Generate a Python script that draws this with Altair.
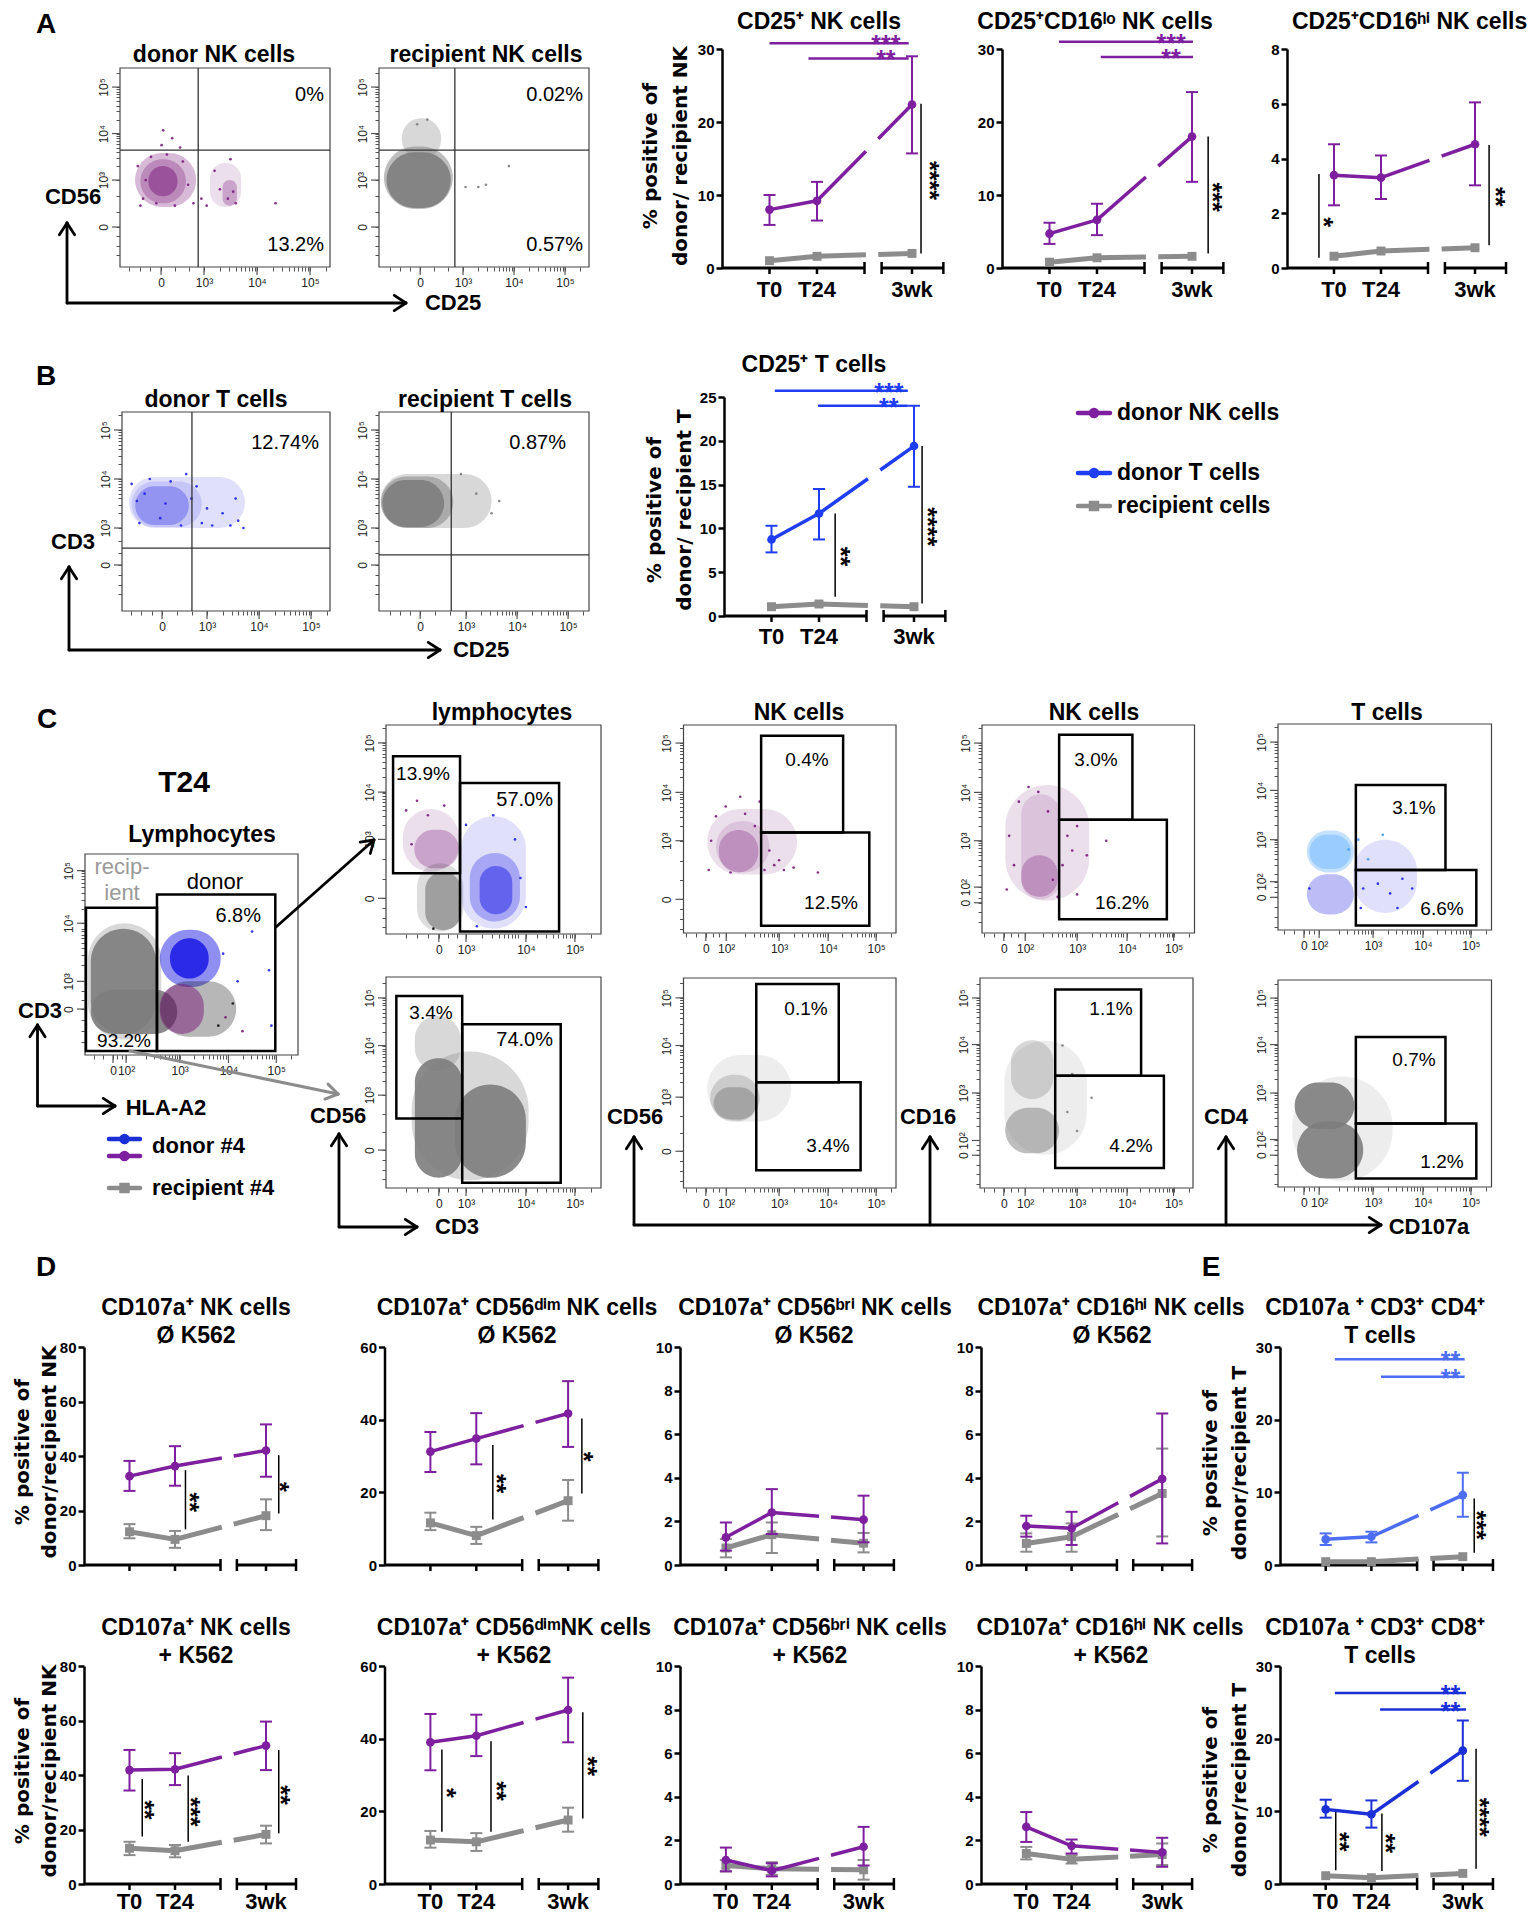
import math
import altair as alt
import pandas as pd

# =========================== DATA ===========================
TIMES = ["T0", "T24", "3wk"]
TPOS = [1, 2, 4]            # position of the three time points (3wk sits after the axis break)

# ---- A : % CD25+ of donor / recipient NK subsets
A1_DON = [8.0, 9.2, 22.4];    A1_DON_LO = [5.9, 6.5, 15.7];   A1_DON_HI = [10.0, 11.8, 29.0]
A1_REC = [1.0, 1.6, 2.0]
A2_DON = [4.7, 6.6, 18.0];    A2_DON_LO = [3.3, 4.5, 11.8];   A2_DON_HI = [6.2, 8.8, 24.1]
A2_REC = [0.8, 1.4, 1.6]
A3_DON = [3.39, 3.30, 4.52];  A3_DON_LO = [2.29, 2.52, 3.02]; A3_DON_HI = [4.52, 4.11, 6.05]
A3_REC = [0.43, 0.62, 0.74]
# ---- B : % CD25+ T cells
B_DON = [8.74, 11.7, 19.4];   B_DON_LO = [7.26, 8.74, 14.75]; B_DON_HI = [10.3, 14.5, 24.0]
B_REC = [1.06, 1.37, 1.06]
# ---- D : % CD107a+ NK subsets (without / with K562)
D1_DON = [32.6, 36.3, 42.0];  D1_DON_LO = [27.2, 29.1, 32.4]; D1_DON_HI = [38.2, 43.6, 51.6]
D1_REC = [12.2, 9.4, 18.1];   D1_REC_LO = [9.8, 6.3, 12.8];   D1_REC_HI = [15.0, 12.5, 24.1]
D2_DON = [31.2, 34.8, 41.7];  D2_DON_LO = [25.6, 27.7, 32.5]; D2_DON_HI = [36.6, 41.8, 50.6]
D2_REC = [11.6, 8.1, 17.7];   D2_REC_LO = [9.6, 5.8, 12.2];   D2_REC_HI = [14.4, 10.5, 23.4]
D3_DON = [1.27, 2.41, 2.08];  D3_DON_LO = [0.66, 1.42, 1.04]; D3_DON_HI = [1.95, 3.48, 3.18]
D3_REC = [0.78, 1.39, 1.00];  D3_REC_LO = [0.35, 0.55, 0.58]; D3_REC_HI = [1.19, 1.95, 1.47]
D4_DON = [1.79, 1.69, 3.95];  D4_DON_LO = [1.30, 0.92, 0.99]; D4_DON_HI = [2.26, 2.44, 6.95]
D4_REC = [0.99, 1.30, 3.28];  D4_REC_LO = [0.61, 0.61, 1.31]; D4_REC_HI = [1.45, 1.91, 5.34]
D5_DON = [41.8, 42.1, 50.8];  D5_DON_LO = [34.3, 36.3, 41.8]; D5_DON_HI = [49.2, 48.0, 59.6]
D5_REC = [13.1, 12.2, 18.2];  D5_REC_LO = [10.6, 9.8, 14.9];  D5_REC_HI = [15.5, 14.3, 21.4]
D6_DON = [39.0, 40.8, 47.9];  D6_DON_LO = [31.3, 35.2, 39.0]; D6_DON_HI = [46.8, 46.6, 56.8]
D6_REC = [12.1, 11.6, 17.6];  D6_REC_LO = [10.0, 9.1, 14.4];  D6_REC_HI = [14.6, 14.0, 21.0]
D7_DON = [1.10, 0.61, 1.71];  D7_DON_LO = [0.58, 0.35, 0.85]; D7_DON_HI = [1.67, 0.95, 2.62]
D7_REC = [0.85, 0.70, 0.65];  D7_REC_LO = [0.58, 0.42, 0.20]; D7_REC_HI = [1.10, 1.00, 1.10]
D8_DON = [2.62, 1.75, 1.45];  D8_DON_LO = [1.93, 1.40, 0.79]; D8_DON_HI = [3.30, 2.04, 2.12]
D8_REC = [1.40, 1.13, 1.35];  D8_REC_LO = [1.13, 0.94, 0.87]; D8_REC_HI = [1.70, 1.32, 1.86]
# ---- E : % CD107a+ T cells
E1_DON = [3.53, 3.89, 9.62];  E1_DON_LO = [2.75, 3.11, 6.64]; E1_DON_HI = [4.35, 4.58, 12.7]
E1_REC = [0.46, 0.46, 1.15]
E2_DON = [10.27, 9.59, 18.36]; E2_DON_LO = [9.13, 7.76, 14.2]; E2_DON_HI = [11.6, 11.5, 22.5]
E2_REC = [1.14, 0.87, 1.46]

# ---- significance: horizontal (x1, x2, y, stars, x_stars) / vertical (x, y1, y2, stars, x_stars, y_stars)
A1_SIG_H = [(1.0, 3.93, 30.8, "***", 3.45), (1.82, 3.93, 28.7, "**", 3.45)]
A1_SIG_V = [(4.19, 2.0, 22.5, "****", 4.48, 12.0)]
A2_SIG_H = [(1.2, 4.02, 31.0, "***", 3.56), (2.08, 4.02, 28.9, "**", 3.56)]
A2_SIG_V = [(4.34, 2.0, 18.0, "***", 4.55, 9.7)]
A3_SIG_V = [(0.68, 0.37, 3.43, "*", 0.89, 1.68), (4.30, 0.83, 4.49, "**", 4.55, 2.6)]
B_SIG_H = [(1.07, 3.87, 25.7, "***", 3.47), (1.98, 3.87, 24.0, "**", 3.47)]
B_SIG_V = [(2.34, 2.2, 11.7, "**", 2.57, 6.8), (4.17, 1.44, 19.4, "****", 4.40, 10.2)]
D1_SIG_V = [(2.23, 13.1, 34.8, "**", 2.44, 23.0), (4.28, 18.9, 40.3, "*", 4.41, 28.7)]
D2_SIG_V = [(2.36, 12.5, 33.0, "**", 2.56, 22.4), (4.30, 19.7, 40.3, "*", 4.46, 29.8)]
D5_SIG_V = [(1.28, 17.4, 38.5, "**", 1.46, 27.2), (2.29, 15.5, 39.8, "***", 2.46, 26.5),
            (4.28, 18.6, 49.2, "**", 4.45, 32.7)]
D6_SIG_V = [(1.25, 14.4, 37.0, "*", 1.47, 25.1), (2.32, 14.4, 39.3, "**", 2.56, 25.6),
            (4.32, 18.0, 47.3, "**", 4.54, 32.4)]
E1_SIG_H = [(1.2, 4.04, 28.3, "**", 3.73), (2.21, 4.04, 25.9, "**", 3.73)]
E1_SIG_V = [(4.25, 1.7, 9.16, "***", 4.42, 5.5)]
E2_SIG_H = [(1.2, 4.07, 26.3, "**", 3.73), (2.19, 4.07, 24.0, "**", 3.73)]
E2_SIG_V = [(1.22, 1.9, 9.9, "**", 1.42, 5.8), (2.23, 1.8, 9.7, "**", 2.42, 5.6),
            (4.29, 2.1, 18.6, "****", 4.49, 9.2)]

# ---- flow cytometry: populations as blobs (x1, x2, y1, y2, population, density), decade units
FA1_CLOUDS = [(1.70, 2.85, 2.42, 3.58, "purple", "s"), (1.80, 2.66, 2.50, 3.45, "purple", "s"),
              (1.95, 2.50, 2.65, 3.30, "purple", "m"), (3.11, 3.70, 2.42, 3.37, "purple", "x"),
              (3.35, 3.62, 2.45, 3.00, "purple", "s")]
FA2_CLOUDS = [(1.80, 2.57, 3.45, 4.33, "gray", "s"), (1.45, 2.80, 2.38, 3.72, "gray", "m"),
              (1.50, 2.76, 2.40, 3.60, "gray", "d")]
FB1_CLOUDS = [(1.50, 3.73, 3.00, 4.04, "blue", "x"), (1.55, 2.90, 3.02, 3.95, "blue", "x"),
              (1.62, 2.65, 3.06, 3.85, "blue", "s")]
FB2_CLOUDS = [(1.33, 3.50, 3.00, 4.10, "gray", "s"), (1.33, 2.75, 3.00, 4.05, "gray", "m"),
              (1.36, 2.57, 3.02, 3.98, "gray", "d")]
FCL_CLOUDS = [(1.10, 2.62, 1.95, 4.05, "gray", "s"), (1.16, 2.51, 2.05, 3.95, "gray", "d"),
              (1.16, 2.95, 2.05, 2.85, "gray", "d"), (2.59, 3.85, 2.90, 3.93, "blue", "m"),
              (2.80, 3.60, 3.05, 3.78, "blue", "d"), (2.60, 4.17, 2.00, 3.00, "black", "s"),
              (2.59, 3.50, 2.05, 2.95, "purple", "m")]
FCT_CLOUDS = [(1.84, 2.87, 2.33, 3.63, "purple", "x"), (2.05, 2.87, 2.40, 3.20, "purple", "s"),
              (2.10, 2.95, 1.09, 2.50, "black", "x"), (2.25, 2.91, 1.12, 2.33, "black", "s"),
              (2.91, 4.10, 1.15, 3.48, "blue", "x"), (3.07, 3.99, 1.30, 2.72, "blue", "s"),
              (3.25, 3.85, 1.45, 2.45, "blue", "m")]
FCB_CLOUDS = [(2.00, 4.15, 1.25, 3.90, "gray", "s"), (2.06, 2.93, 1.30, 3.76, "gray", "d"),
              (2.80, 4.10, 1.30, 3.22, "gray", "d"), (2.06, 2.90, 3.50, 4.63, "gray", "s")]
FN1_CLOUDS = [(1.52, 3.37, 2.31, 3.65, "purple", "x"), (1.70, 2.80, 2.35, 3.40, "purple", "x"),
              (1.76, 2.57, 2.35, 3.22, "purple", "s")]
FN2_CLOUDS = [(1.52, 3.25, 1.77, 4.14, "purple", "x"), (1.85, 2.65, 1.80, 3.95, "purple", "x"),
              (1.85, 2.60, 1.85, 2.70, "purple", "s")]
FT1_CLOUDS = [(2.60, 3.90, 1.50, 3.00, "blue", "x"), (1.65, 2.61, 2.33, 3.19, "lblue", "s"),
              (1.70, 2.55, 2.40, 3.10, "lblue", "s"), (1.65, 2.61, 1.47, 2.29, "blue", "s")]
FN3_CLOUDS = [(1.52, 3.25, 2.51, 3.85, "gray", "x"), (1.58, 2.60, 2.51, 3.45, "gray", "s"),
              (1.65, 2.53, 2.55, 3.20, "gray", "m")]
FN4_CLOUDS = [(1.50, 3.20, 1.70, 4.10, "gray", "x"), (1.64, 2.51, 2.87, 4.11, "gray", "s"),
              (1.52, 2.63, 1.73, 2.69, "gray", "m")]
FT2_CLOUDS = [(1.35, 3.40, 1.15, 3.35, "gray", "x"), (1.40, 2.62, 2.24, 3.22, "gray", "d"),
              (1.45, 2.80, 1.20, 2.40, "gray", "d")]
# ---- single scattered events (x, y, population), decade units
FA1_DOTS = [(1.75, 3.3, "purple"), (1.85, 2.6, "purple"), (2.0, 3.5, "purple"), (2.1, 2.5, "purple"),
            (2.3, 3.55, "purple"), (2.45, 2.45, "purple"), (2.6, 3.4, "purple"), (2.7, 2.9, "purple"),
            (2.8, 2.5, "purple"), (1.9, 3.0, "purple"), (2.2, 3.75, "purple"), (2.4, 3.9, "purple"),
            (2.55, 3.7, "purple"), (2.95, 2.6, "purple"), (3.05, 2.45, "purple"), (3.2, 3.2, "purple"),
            (3.5, 3.45, "purple"), (3.6, 2.5, "purple"), (3.3, 2.8, "purple"), (4.35, 2.5, "purple"),
            (2.23, 4.07, "purple"), (1.8, 2.45, "purple"), (3.45, 2.6, "purple"), (3.55, 2.75, "purple")]
FA2_DOTS = [(3.05, 2.85, "gray"), (3.3, 2.85, "gray"), (3.45, 2.9, "gray"), (3.9, 3.3, "gray"),
            (2.1, 4.2, "gray"), (2.3, 4.3, "gray")]
FB1_DOTS = [(1.55, 3.9, "blue"), (1.7, 3.1, "blue"), (1.9, 4.0, "blue"), (2.1, 3.2, "blue"),
            (2.3, 3.95, "blue"), (2.5, 3.05, "blue"), (2.7, 3.6, "blue"), (2.9, 3.1, "blue"),
            (3.0, 3.4, "blue"), (3.1, 3.05, "blue"), (3.3, 3.3, "blue"), (3.45, 3.05, "blue"),
            (3.6, 3.15, "blue"), (2.6, 4.1, "blue"), (2.2, 3.5, "blue"), (1.65, 3.55, "blue"),
            (2.8, 3.85, "blue"), (3.7, 3.0, "blue"), (3.55, 3.6, "blue"), (1.8, 3.7, "blue")]
FB2_DOTS = [(3.2, 3.7, "gray"), (3.5, 3.3, "gray"), (3.65, 3.55, "gray"), (2.9, 4.1, "gray")]
FCL_DOTS = [(3.9, 3.5, "blue"), (4.2, 3.0, "blue"), (4.5, 3.9, "blue"), (4.9, 2.2, "blue"),
            (4.85, 3.2, "blue"), (3.8, 2.2, "black"), (4.1, 2.6, "black"), (4.3, 2.1, "purple"),
            (3.95, 2.35, "purple")]
FCT_DOTS = [(1.9, 3.6, "purple"), (2.1, 3.8, "purple"), (2.3, 3.5, "purple"), (2.6, 3.7, "purple"),
            (2.0, 2.9, "purple"), (3.0, 3.3, "blue"), (3.5, 3.5, "blue"), (3.9, 3.0, "blue"),
            (4.0, 2.2, "blue"), (3.2, 1.2, "blue"), (4.1, 1.6, "blue"), (2.4, 1.15, "black")]
FN1_DOTS = [(1.55, 2.4, "purple"), (1.6, 3.0, "purple"), (1.7, 3.5, "purple"), (1.9, 3.7, "purple"),
            (2.0, 2.35, "purple"), (2.3, 3.55, "purple"), (2.5, 3.3, "purple"), (2.7, 2.4, "purple"),
            (2.8, 2.8, "purple"), (2.9, 2.5, "purple"), (3.0, 2.6, "purple"), (3.1, 2.4, "purple"),
            (3.3, 2.45, "purple"), (2.2, 3.9, "purple"), (2.6, 3.8, "purple"), (3.8, 2.35, "purple")]
FN2_DOTS = [(1.55, 2.0, "purple"), (1.6, 3.1, "purple"), (1.8, 3.8, "purple"), (2.0, 4.1, "purple"),
            (2.2, 4.0, "purple"), (2.4, 3.6, "purple"), (2.5, 2.2, "purple"), (2.7, 2.5, "purple"),
            (2.8, 3.1, "purple"), (2.9, 2.8, "purple"), (3.0, 3.3, "purple"), (3.2, 2.7, "purple"),
            (3.0, 1.9, "purple"), (1.7, 2.5, "purple"), (2.6, 1.85, "purple"), (3.6, 3.0, "purple")]
FT1_DOTS = [(2.7, 3.0, "lblue"), (2.8, 2.0, "blue"), (2.9, 2.6, "lblue"), (3.1, 2.1, "blue"),
            (3.2, 3.1, "lblue"), (3.35, 1.9, "blue"), (3.6, 2.2, "blue"), (3.8, 2.0, "blue"),
            (2.75, 1.6, "blue"), (3.5, 1.6, "blue"), (1.7, 2.0, "blue"), (2.5, 2.8, "lblue")]
FN4_DOTS = [(2.8, 2.6, "gray"), (3.0, 2.2, "gray"), (2.9, 3.4, "gray"), (3.3, 2.9, "gray"),
            (2.7, 4.0, "gray")]
# quadrant lines (x, y) and gates (x1, x2, y1, y2)
FA1_QUAD = (2.89, 3.645); FA2_QUAD = (2.84, 3.645); FB1_QUAD = (2.71, 2.59); FB2_QUAD = (2.71, 2.45)
FCL_GATES = [(1.06, 2.53, 1.74, 4.33), (2.53, 4.98, 1.74, 4.57)]
FCT_GATES = [(1.66, 2.89, 2.30, 4.72), (2.89, 4.71, 1.09, 4.17)]
FCB_GATES = [(1.72, 2.93, 2.52, 5.04), (2.93, 4.74, 1.20, 4.46)]
FN1_GATES = [(2.63, 4.32, 3.17, 5.15), (2.63, 4.86, 1.26, 3.17)]
FN2_GATES = [(2.63, 4.14, 3.43, 5.17), (2.63, 4.85, 1.39, 3.43)]
FT1_GATES = [(2.65, 4.48, 2.38, 4.12), (2.65, 5.11, 1.24, 2.38)]
FN3_GATES = [(2.53, 4.23, 3.30, 5.28), (2.53, 4.68, 1.53, 3.30)]
FN4_GATES = [(2.55, 4.32, 3.36, 5.18), (2.55, 4.79, 1.42, 3.36)]
FT2_GATES = [(2.65, 4.48, 2.36, 4.18), (2.65, 5.11, 1.20, 2.36)]
# gate / quadrant frequencies
PCT_A = ["0%", "13.2%", "0.02%", "0.57%"]
PCT_B = ["12.74%", "0.87%"]
PCT_CL = ["6.8%", "93.2%"]
PCT_C = ["13.9%", "57.0%", "3.4%", "74.0%", "0.4%", "12.5%", "3.0%", "16.2%", "3.1%", "6.6%",
         "0.1%", "3.4%", "1.1%", "4.2%", "0.7%", "1.2%"]

# =========================== STYLE / LAYOUT ===========================
W, H = 1519, 1906


def P(v):            # page pixel -> canvas pixel (8px page margin)
    return v - 8


FONT = "Liberation Sans, Arial, Helvetica, sans-serif"
FONT_Y = "DejaVu Sans, Verdana, sans-serif"
PURPLE, GRAY = "#7d1f9e", "#8c8c8c"
BLUE_B, BLUE_E1, BLUE_E2 = "#1f3df2", "#4d6ef2", "#1b2fd6"
POP_COL = {"purple": "#7a1a7a", "gray": "#7d7d7d", "blue": "#2020e6", "lblue": "#3a9cff", "black": "#111111"}
DENS = {"x": 0.14, "s": 0.3, "m": 0.5, "d": 0.9}
XMAX, BREAK, GAP = 4.66, (3.0, 3.36), (3.03, 3.29)
STAR = 25

LC = {
    "A1": dict(x0=722, u=47.5, y0=268, yt=49, ymax=30, ticks=[0, 10, 20, 30]),
    "A2": dict(x0=1002, u=47.5, y0=268, yt=49, ymax=30, ticks=[0, 10, 20, 30]),
    "A3": dict(x0=1287, u=47.0, y0=268, yt=49, ymax=8, ticks=[0, 2, 4, 6, 8]),
    "B": dict(x0=724, u=47.5, y0=616, yt=397, ymax=25, ticks=[0, 5, 10, 15, 20, 25]),
    "D1": dict(x0=84, u=45.5, y0=1565, yt=1347, ymax=80, ticks=[0, 20, 40, 60, 80]),
    "D2": dict(x0=384.5, u=45.9, y0=1565, yt=1347, ymax=60, ticks=[0, 20, 40, 60]),
    "D3": dict(x0=680, u=45.9, y0=1565, yt=1347, ymax=10, ticks=[0, 2, 4, 6, 8, 10]),
    "D4": dict(x0=981, u=45.3, y0=1565, yt=1347, ymax=10, ticks=[0, 2, 4, 6, 8, 10]),
    "E1": dict(x0=1280, u=45.7, y0=1565, yt=1347, ymax=30, ticks=[0, 10, 20, 30]),
    "D5": dict(x0=84, u=45.5, y0=1884, yt=1666, ymax=80, ticks=[0, 20, 40, 60, 80]),
    "D6": dict(x0=384.5, u=45.9, y0=1884, yt=1666, ymax=60, ticks=[0, 20, 40, 60]),
    "D7": dict(x0=680, u=45.9, y0=1884, yt=1666, ymax=10, ticks=[0, 2, 4, 6, 8, 10]),
    "D8": dict(x0=981, u=45.3, y0=1884, yt=1666, ymax=10, ticks=[0, 2, 4, 6, 8, 10]),
    "E2": dict(x0=1280, u=45.7, y0=1884, yt=1666, ymax=30, ticks=[0, 10, 20, 30]),
}

T3, T4, T5, T2 = "10³", "10⁴", "10⁵", "10²"
FLOW = {
    "A1": dict(box=(120, 330, 68, 267), xdom=(1.415, 5.377), ydom=(1.13, 5.41),
               xt=[(2.19, "0"), (3, T3), (4, T4), (5, T5)], yt=[(1.99, "0"), (3, T3), (4, T4), (5, T5)]),
    "A2": dict(box=(379, 589, 68, 267), xdom=(1.353, 5.47), ydom=(1.13, 5.41),
               xt=[(2.16, "0"), (3, T3), (4, T4), (5, T5)], yt=[(1.99, "0"), (3, T3), (4, T4), (5, T5)]),
    "B1": dict(box=(122, 330, 412, 611), xdom=(1.365, 5.365), ydom=(1.306, 5.367),
               xt=[(2.135, "0"), (3, T3), (4, T4), (5, T5)], yt=[(2.245, "0"), (3, T3), (4, T4), (5, T5)]),
    "B2": dict(box=(379, 589, 412, 611), xdom=(1.294, 5.41), ydom=(1.306, 5.367),
               xt=[(2.10, "0"), (3, T3), (4, T4), (5, T5)], yt=[(2.245, "0"), (3, T3), (4, T4), (5, T5)]),
    "CL": dict(box=(85, 298, 854, 1055), xdom=(1.04, 5.45), ydom=(1.67, 5.30),
               xt=[(1.62, "0"), (1.89, T2), (3, T3), (4.01, T4), (5, T5)],
               yt=[(2.50, "0"), (3, T3), (4.05, T4), (5, T5)]),
    "CT": dict(box=(386, 601, 725, 934), xdom=(1.53, 5.48), ydom=(1.04, 5.37),
               xt=[(2.50, "0"), (3, T3), (4.10, T4), (5, T5)], yt=[(1.78, "0"), (3, T3), (3.98, T4), (5, T5)]),
    "CB": dict(box=(386, 601, 977, 1188), xdom=(1.53, 5.48), ydom=(1.09, 5.43),
               xt=[(2.50, "0"), (3, T3), (4.10, T4), (5, T5)], yt=[(1.87, "0"), (3, T3), (4.02, T4), (5, T5)]),
    "N1": dict(box=(683.5, 896, 725, 933), xdom=(1.03, 5.41), ydom=(1.11, 5.37),
               xt=[(1.49, "0"), (1.91, T2), (3, T3), (4.01, T4), (5, T5)],
               yt=[(1.80, "0"), (3, T3), (3.99, T4), (5, T5)]),
    "N2": dict(box=(982, 1194.5, 725, 933), xdom=(1.04, 5.42), ydom=(1.11, 5.37),
               xt=[(1.49, "0"), (1.93, T2), (3, T3), (4.03, T4), (4.99, T5)],
               yt=[(1.73, "0"), (2.05, T2), (3, T3), (3.99, T4), (5, T5)]),
    "T1": dict(box=(1278, 1491.5, 724, 930), xdom=(1.06, 5.42), ydom=(1.15, 5.37),
               xt=[(1.59, "0"), (1.90, T2), (3, T3), (4.02, T4), (5, T5)],
               yt=[(1.82, "0"), (2.14, T2), (3, T3), (4.01, T4), (5, T5)]),
    "N3": dict(box=(683.5, 896, 978, 1188), xdom=(1.03, 5.41), ydom=(1.17, 5.40),
               xt=[(1.49, "0"), (1.91, T2), (3, T3), (4.01, T4), (5, T5)],
               yt=[(1.91, "0"), (3, T3), (4.04, T4), (5, T5)]),
    "N4": dict(box=(980, 1193, 978, 1188), xdom=(1.0, 5.39), ydom=(1.0, 5.42),
               xt=[(1.49, "0"), (1.93, T2), (3, T3), (4.03, T4), (4.99, T5)],
               yt=[(1.69, "0"), (2.0, T2), (3, T3), (4.02, T4), (5, T5)]),
    "T2": dict(box=(1278, 1491.5, 980, 1187), xdom=(1.06, 5.42), ydom=(1.02, 5.38),
               xt=[(1.59, "0"), (1.90, T2), (3, T3), (4.02, T4), (5, T5)],
               yt=[(1.69, "0"), (2.02, T2), (3, T3), (4.02, T4), (5, T5)]),
}


# =========================== helpers ===========================
def text_layer(rows, **kw):
    d = pd.DataFrame({"x": [P(r[1]) for r in rows], "y": [P(r[2]) for r in rows], "t": [r[0] for r in rows]})
    style = dict(font=FONT, fontSize=20, color="black", align="center", baseline="middle")
    style.update(kw)
    return alt.Chart(d).mark_text(**style).encode(
        x=alt.X("x:Q", scale=None), y=alt.Y("y:Q", scale=None), text="t:N")


def arrow(x1, y1, x2, y2, head=14, ang=33):
    a = math.atan2(y2 - y1, x2 - x1)
    out = [(x1, y1, x2, y2)]
    for s in (1, -1):
        b = a + math.pi + s * math.radians(ang)
        out.append((x2, y2, x2 + head * math.cos(b), y2 + head * math.sin(b)))
    return out


def seg_layer(segs, color="black", width=2.8):
    d = pd.DataFrame([[P(v) for v in s] for s in segs], columns=["x1", "y1", "x2", "y2"])
    return alt.Chart(d).mark_rule(color=color, strokeWidth=width, strokeCap="round").encode(
        x=alt.X("x1:Q", scale=None), y=alt.Y("y1:Q", scale=None), x2="x2:Q", y2="y2:Q")


def dash_for(g, vals):
    k = (g["y0"] - g["yt"]) / g["ymax"]
    px = [g["x0"] + t * g["u"] for t in TPOS]
    py = [g["y0"] - v * k for v in vals]
    l1 = math.hypot(px[1] - px[0], py[1] - py[0])
    l2 = math.hypot(px[2] - px[1], py[2] - py[1])
    f1, f2 = (GAP[0] - 2) / 2, (GAP[1] - 2) / 2
    return [round(l1 + f1 * l2, 2), round((f2 - f1) * l2, 2), 4000]


def don(v, lo, hi, color=PURPLE):
    return dict(v=v, lo=lo, hi=hi, color=color, lw=3.5, shape="circle", size=75)


def rec(v, lo=None, hi=None):
    return dict(v=v, lo=lo, hi=hi, color=GRAY, lw=5, shape="square", size=80)


def line_panel(g, series, sig_h=(), sig_v=(), hcol="black", xlab_dy=None):
    xs = alt.Scale(domain=[0, XMAX], range=[P(g["x0"]), P(g["x0"] + XMAX * g["u"])], nice=False, zero=False)
    ys = alt.Scale(domain=[0, g["ymax"]], range=[P(g["y0"]), P(g["yt"])], nice=False, zero=False)
    yax = alt.Axis(orient="left", offset=-P(g["x0"]), values=g["ticks"], title=None, grid=False,
                   domainColor="black", domainWidth=2.5, tickColor="black", tickWidth=2.5, tickSize=6,
                   labelFont=FONT, labelFontSize=15, labelFontWeight="bold", labelColor="black",
                   labelPadding=2, format="d")

    def X(f):
        return alt.X(f, type="quantitative", scale=xs, axis=None)

    def Y(f):
        return alt.Y(f, type="quantitative", scale=ys, axis=yax)

    L = []
    segs = pd.DataFrame({"a": [0.0, BREAK[1]], "b": [BREAK[0], XMAX], "v": [0.0, 0.0]})
    L.append(alt.Chart(segs).mark_rule(color="black", strokeWidth=3).encode(x=X("a"), x2=alt.X2("b"), y=Y("v")))
    caps = pd.DataFrame({"a": [BREAK[0], BREAK[1], XMAX], "v": [0.0] * 3})
    L.append(alt.Chart(caps).mark_rule(color="black", strokeWidth=2.5, yOffset=-6, y2Offset=6).encode(
        x=X("a"), y=Y("v"), y2=alt.Y2("v")))
    tk = pd.DataFrame({"a": TPOS, "v": [0.0] * 3})
    L.append(alt.Chart(tk).mark_rule(color="black", strokeWidth=2.5, y2Offset=6).encode(
        x=X("a"), y=Y("v"), y2=alt.Y2("v")))
    for s in series:
        d = pd.DataFrame({"t": TPOS, "v": s["v"]})
        L.append(alt.Chart(d).mark_line(color=s["color"], strokeWidth=s["lw"], strokeDash=dash_for(g, s["v"]),
                                        strokeCap="butt", strokeJoin="round").encode(x=X("t"), y=Y("v")))
        if s["lo"] is not None:
            e = pd.DataFrame({"t": TPOS, "lo": s["lo"], "hi": s["hi"]})
            L.append(alt.Chart(e).mark_rule(color=s["color"], strokeWidth=2).encode(
                x=X("t"), y=Y("lo"), y2=alt.Y2("hi")))
            c = pd.DataFrame({"t": TPOS * 2, "c": list(s["lo"]) + list(s["hi"])})
            L.append(alt.Chart(c).mark_rule(color=s["color"], strokeWidth=2, xOffset=-6, x2Offset=6).encode(
                x=X("t"), x2=alt.X2("t"), y=Y("c")))
        L.append(alt.Chart(d).mark_point(shape=s["shape"], filled=True, size=s["size"], color=s["color"],
                                         opacity=1).encode(x=X("t"), y=Y("v")))
    if sig_h:
        d = pd.DataFrame(sig_h, columns=["a", "b", "y", "lab", "xs"])
        L.append(alt.Chart(d).mark_rule(color=hcol, strokeWidth=2.5).encode(x=X("a"), x2=alt.X2("b"), y=Y("y")))
        L.append(alt.Chart(d).mark_text(color=hcol, font=FONT, fontSize=STAR, fontWeight="bold",
                                        baseline="alphabetic", dy=10).encode(x=X("xs"), y=Y("y"), text="lab:N"))
    if sig_v:
        d = pd.DataFrame(sig_v, columns=["x", "y1", "y2", "lab", "xs", "ys"])
        L.append(alt.Chart(d).mark_rule(color="black", strokeWidth=1.5).encode(x=X("x"), y=Y("y1"), y2=alt.Y2("y2")))
        L.append(alt.Chart(d).mark_text(color="black", font=FONT, fontSize=STAR, fontWeight="bold", angle=90,
                                        baseline="middle", dy=6).encode(x=X("xs"), y=Y("ys"), text="lab:N"))
    if xlab_dy:
        d = pd.DataFrame({"t": TPOS, "v": [0.0] * 3, "lab": TIMES})
        L.append(alt.Chart(d).mark_text(font=FONT, fontSize=22, fontWeight="bold", baseline="middle",
                                        dy=xlab_dy, color="black").encode(x=X("t"), y=Y("v"), text="lab:N"))
    return alt.layer(*L)


def flow_axis(orient, offset, ticks, dom):
    majors = [u for u, _ in ticks]
    lo, hi = dom
    has2 = any(lab == T2 for _, lab in ticks)
    minors = []
    for dec in ([2, 3, 4, 5] if has2 else [3, 4, 5]):
        for k in range(2, 10):
            v = round(dec + math.log10(k), 3)
            if lo + 0.03 < v < hi - 0.03:
                minors.append(v)
    z, nxt = majors[0], majors[1]
    for fr in (0.33, 0.66):
        minors.append(round(z + fr * (nxt - z), 3))
    for i in (1, 2, 3):
        v = round(z - 0.2 * i, 3)
        if v > lo + 0.03:
            minors.append(v)
    vals = sorted(set(majors + minors))
    expr = "".join(f"datum.value == {u} ? '{lab}' : " for u, lab in ticks) + "''"
    kw = dict(orient=orient, offset=offset, values=vals, labelExpr=expr, title=None, grid=False, domain=False,
              tickColor="#555555", tickWidth=1, tickSize=4,
              labelFont=FONT, labelFontSize=12, labelColor="#222222", labelPadding=6,
              labelOverlap=False, labelFlush=False)
    if orient == "left":
        kw.update(labelAngle=270, labelAlign="center", labelBaseline="bottom")
    return alt.Axis(**kw)


def flow_panel(key, clouds, gates=(), quad=None, dots=()):
    f = FLOW[key]
    bx0, bx1, by0, by1 = f["box"]
    xs = alt.Scale(domain=list(f["xdom"]), range=[P(bx0), P(bx1)], nice=False, zero=False)
    ys = alt.Scale(domain=list(f["ydom"]), range=[P(by1), P(by0)], nice=False, zero=False)
    xax = flow_axis("bottom", P(by1) - H, f["xt"], f["xdom"])
    yax = flow_axis("left", -P(bx0), f["yt"], f["ydom"])

    # every child carries the same axis definition so that the shared axes merge
    def X(fl):
        return alt.X(fl, type="quantitative", scale=xs, axis=xax)

    def Y(fl):
        return alt.Y(fl, type="quantitative", scale=ys, axis=yax)

    L = []
    fr = pd.DataFrame({"a": [f["xdom"][0]], "b": [f["xdom"][1]], "c": [f["ydom"][0]], "d": [f["ydom"][1]]})
    L.append(alt.Chart(fr).mark_rect(fill="white", stroke="#444444", strokeWidth=1.2).encode(
        x=X("a"), x2=alt.X2("b"), y=Y("c"), y2=alt.Y2("d")))
    # longer major ticks
    xm = pd.DataFrame({"x": [u for u, _ in f["xt"]], "y": [f["ydom"][0]] * len(f["xt"])})
    L.append(alt.Chart(xm).mark_rule(color="#555555", strokeWidth=1.2, y2Offset=8).encode(
        x=X("x"), y=Y("y"), y2=alt.Y2("y")))
    ym = pd.DataFrame({"y": [u for u, _ in f["yt"]], "x": [f["xdom"][0]] * len(f["yt"])})
    L.append(alt.Chart(ym).mark_rule(color="#555555", strokeWidth=1.2, x2Offset=-8).encode(
        x=X("x"), x2=alt.X2("x"), y=Y("y")))
    cd = pd.DataFrame(clouds, columns=["a", "b", "c", "d", "pop", "den"])
    cd["col"] = cd["pop"].map(POP_COL)
    cd["op"] = cd["den"].map(DENS)
    L.append(alt.Chart(cd).mark_rect(cornerRadius=200).encode(
        x=X("a"), x2=alt.X2("b"), y=Y("c"), y2=alt.Y2("d"),
        color=alt.Color("col:N", scale=None), opacity=alt.Opacity("op:Q", scale=None)))
    if dots:
        dd = pd.DataFrame(dots, columns=["x", "y", "pop"])
        dd["col"] = dd["pop"].map(POP_COL)
        L.append(alt.Chart(dd).mark_point(shape="circle", filled=True, size=7, opacity=0.9).encode(
            x=X("x"), y=Y("y"), color=alt.Color("col:N", scale=None)))
    if quad:
        qx, qy = quad
        vd = pd.DataFrame({"x": [qx], "c": [f["ydom"][0]], "d": [f["ydom"][1]]})
        hd = pd.DataFrame({"y": [qy], "a": [f["xdom"][0]], "b": [f["xdom"][1]]})
        L.append(alt.Chart(vd).mark_rule(color="#333333", strokeWidth=1.3).encode(x=X("x"), y=Y("c"), y2=alt.Y2("d")))
        L.append(alt.Chart(hd).mark_rule(color="#333333", strokeWidth=1.3).encode(x=X("a"), x2=alt.X2("b"), y=Y("y")))
    if gates:
        gd = pd.DataFrame(gates, columns=["a", "b", "c", "d"])
        L.append(alt.Chart(gd).mark_rect(fillOpacity=0, stroke="black", strokeWidth=2.5).encode(
            x=X("a"), x2=alt.X2("b"), y=Y("c"), y2=alt.Y2("d")))
    return alt.layer(*L)


# =========================== panels ===========================
panels = []
panels += [
    flow_panel("A1", FA1_CLOUDS, quad=FA1_QUAD, dots=FA1_DOTS),
    flow_panel("A2", FA2_CLOUDS, quad=FA2_QUAD, dots=FA2_DOTS),
    flow_panel("B1", FB1_CLOUDS, quad=FB1_QUAD, dots=FB1_DOTS),
    flow_panel("B2", FB2_CLOUDS, quad=FB2_QUAD, dots=FB2_DOTS),
    flow_panel("CL", FCL_CLOUDS, FCL_GATES, dots=FCL_DOTS),
    flow_panel("CT", FCT_CLOUDS, FCT_GATES, dots=FCT_DOTS),
    flow_panel("CB", FCB_CLOUDS, FCB_GATES),
    flow_panel("N1", FN1_CLOUDS, FN1_GATES, dots=FN1_DOTS),
    flow_panel("N2", FN2_CLOUDS, FN2_GATES, dots=FN2_DOTS),
    flow_panel("T1", FT1_CLOUDS, FT1_GATES, dots=FT1_DOTS),
    flow_panel("N3", FN3_CLOUDS, FN3_GATES),
    flow_panel("N4", FN4_CLOUDS, FN4_GATES, dots=FN4_DOTS),
    flow_panel("T2", FT2_CLOUDS, FT2_GATES),
]
panels += [
    line_panel(LC["A1"], [rec(A1_REC), don(A1_DON, A1_DON_LO, A1_DON_HI)], A1_SIG_H, A1_SIG_V, PURPLE, 22),
    line_panel(LC["A2"], [rec(A2_REC), don(A2_DON, A2_DON_LO, A2_DON_HI)], A2_SIG_H, A2_SIG_V, PURPLE, 22),
    line_panel(LC["A3"], [rec(A3_REC), don(A3_DON, A3_DON_LO, A3_DON_HI)], (), A3_SIG_V, PURPLE, 22),
    line_panel(LC["B"], [rec(B_REC), don(B_DON, B_DON_LO, B_DON_HI, BLUE_B)], B_SIG_H, B_SIG_V, BLUE_B, 21),
    line_panel(LC["D1"], [rec(D1_REC, D1_REC_LO, D1_REC_HI), don(D1_DON, D1_DON_LO, D1_DON_HI)], (), D1_SIG_V),
    line_panel(LC["D2"], [rec(D2_REC, D2_REC_LO, D2_REC_HI), don(D2_DON, D2_DON_LO, D2_DON_HI)], (), D2_SIG_V),
    line_panel(LC["D3"], [rec(D3_REC, D3_REC_LO, D3_REC_HI), don(D3_DON, D3_DON_LO, D3_DON_HI)]),
    line_panel(LC["D4"], [rec(D4_REC, D4_REC_LO, D4_REC_HI), don(D4_DON, D4_DON_LO, D4_DON_HI)]),
    line_panel(LC["E1"], [rec(E1_REC), don(E1_DON, E1_DON_LO, E1_DON_HI, BLUE_E1)], E1_SIG_H, E1_SIG_V, BLUE_E1),
    line_panel(LC["D5"], [rec(D5_REC, D5_REC_LO, D5_REC_HI), don(D5_DON, D5_DON_LO, D5_DON_HI)], (), D5_SIG_V,
               xlab_dy=18),
    line_panel(LC["D6"], [rec(D6_REC, D6_REC_LO, D6_REC_HI), don(D6_DON, D6_DON_LO, D6_DON_HI)], (), D6_SIG_V,
               xlab_dy=18),
    line_panel(LC["D7"], [rec(D7_REC, D7_REC_LO, D7_REC_HI), don(D7_DON, D7_DON_LO, D7_DON_HI)], xlab_dy=18),
    line_panel(LC["D8"], [rec(D8_REC, D8_REC_LO, D8_REC_HI), don(D8_DON, D8_DON_LO, D8_DON_HI)], xlab_dy=18),
    line_panel(LC["E2"], [rec(E2_REC), don(E2_DON, E2_DON_LO, E2_DON_HI, BLUE_E2)], E2_SIG_H, E2_SIG_V, BLUE_E2,
               xlab_dy=18),
]

# ---- arrows
segs = []
for a in [(67, 303, 67, 223), (67, 303, 406, 303), (69, 650, 69, 567), (69, 650, 440, 650),
          (37.5, 1106, 37.5, 1025), (37.5, 1106, 115, 1106), (276, 927, 374, 840),
          (339, 1227, 339, 1134), (339, 1227, 417, 1227),
          (634, 1225, 634, 1137), (930, 1225, 930, 1137), (1226, 1225, 1226, 1137), (634, 1225, 1381, 1225)]:
    segs += arrow(*a)
panels.append(seg_layer(segs))
panels.append(seg_layer(arrow(130, 1051, 338, 1094), color="#8c8c8c", width=3))

# ---- texts
panels.append(text_layer([("A", 46, 25), ("B", 46, 377), ("C", 47, 720), ("D", 46, 1268), ("E", 1211, 1268)],
                         fontSize=28, fontWeight="bold"))
panels.append(text_layer([("donor NK cells", 214, 55), ("recipient NK cells", 486, 55),
                          ("donor T cells", 216, 400), ("recipient T cells", 485, 400),
                          ("lymphocytes", 502, 713), ("NK cells", 799, 713), ("NK cells", 1094, 713),
                          ("T cells", 1387, 713), ("Lymphocytes", 202, 835)], fontSize=23, fontWeight="bold"))
panels.append(text_layer([("T24", 184, 783)], fontSize=30, fontWeight="bold"))
panels.append(text_layer([("CD56", 73, 197), ("CD25", 453, 303), ("CD3", 73, 542), ("CD25", 481, 650),
                          ("CD3", 40, 1011), ("HLA-A2", 166, 1108), ("CD56", 338, 1116), ("CD3", 457, 1227),
                          ("CD56", 635, 1117), ("CD16", 928, 1117), ("CD4", 1226, 1117), ("CD107a", 1429, 1227)],
                         fontSize=22, fontWeight="bold"))
panels.append(text_layer([("CD25⁺ NK cells", 819, 22), ("CD25⁺CD16ˡᵒ  NK cells", 1095, 22),
                          ("CD25⁺ T cells", 814, 365),
                          ("CD107a⁺ NK cells", 196, 1308), ("Ø K562", 196, 1336),
                          ("CD107a⁺ CD56ᵈⁱᵐ NK cells", 517, 1308), ("Ø K562", 517, 1336),
                          ("CD107a⁺ CD56ᵇʳⁱ NK cells", 815, 1308), ("Ø K562", 814, 1336),
                          ("CD107a⁺ CD16ʰⁱ NK cells", 1111, 1308), ("Ø K562", 1112, 1336),
                          ("CD107a ⁺ CD3⁺ CD4⁺", 1375, 1308), ("T cells", 1380, 1336),
                          ("CD107a⁺ NK cells", 196, 1628), ("+ K562", 196, 1656),
                          ("CD107a⁺ CD56ᵈⁱᵐNK cells", 514, 1628), ("+ K562", 514, 1656),
                          ("CD107a⁺ CD56ᵇʳⁱ NK cells", 810, 1628), ("+ K562", 810, 1656),
                          ("CD107a⁺ CD16ʰⁱ NK cells", 1110, 1628), ("+ K562", 1111, 1656),
                          ("CD107a ⁺ CD3⁺ CD8⁺", 1375, 1628), ("T cells", 1380, 1656)],
                         fontSize=23, fontWeight="bold"))
panels.append(text_layer([("CD25⁺CD16ʰⁱ NK cells", 1292, 22)], fontSize=23, fontWeight="bold", align="left"))
panels.append(text_layer([("% positive of", 651, 156), ("donor/ recipient NK", 681, 156),
                          ("% positive of", 655, 510), ("donor/ recipient T", 685, 510),
                          ("% positive of", 23, 1452), ("donor/recipient NK", 50, 1452),
                          ("% positive of", 23, 1771), ("donor/recipient NK", 50, 1771),
                          ("% positive of", 1211, 1463), ("donor/recipient T", 1240, 1463),
                          ("% positive of", 1211, 1780), ("donor/recipient T", 1240, 1780)],
                         font=FONT_Y, fontSize=20, fontWeight="bold", angle=270))
panels.append(text_layer([(PCT_A[0], 324, 95), (PCT_A[1], 324, 245), (PCT_A[2], 583, 95), (PCT_A[3], 583, 245),
                          (PCT_B[0], 319, 443), (PCT_B[1], 566, 443), (PCT_CL[0], 261, 916),
                          (PCT_C[1], 553, 800), (PCT_C[3], 553, 1040)], fontSize=20, align="right"))
pos_c = [(423, 774), None, (431, 1013), None, (807, 760), (831, 903), (1096, 760), (1122, 903), (1414, 808),
         (1442, 909), (806, 1009), (828, 1146), (1111, 1009), (1131, 1146), (1414, 1060), (1442, 1162)]
panels.append(text_layer([(t, p[0], p[1]) for t, p in zip(PCT_C, pos_c) if p] + [(PCT_CL[1], 124, 1041)],
                         fontSize=19))
panels.append(text_layer([("donor", 215, 882)], fontSize=22))
panels.append(text_layer([("recip-", 122, 867), ("ient", 122, 893)], fontSize=22, color="#999999"))

# ---- legends
LEG_B = [("donor NK cells", PURPLE, "circle", 413), ("donor T cells", BLUE_B, "circle", 473),
         ("recipient cells", GRAY, "square", 506)]
LEG_C = [("", BLUE_E2, "circle", 1139), ("donor #4", PURPLE, "circle", 1156), ("recipient #4", GRAY, "square", 1188)]
for items, xl, xr, xt, ty in [(LEG_B, 1078, 1110, 1117, None), (LEG_C, 109, 140, 152, {1156: 1146})]:
    for lab, col, shp, y in items:
        panels.append(seg_layer([(xl, y, xr, y)], color=col, width=4.5))
        pd_ = pd.DataFrame({"x": [P((xl + xr) / 2)], "y": [P(y)]})
        panels.append(alt.Chart(pd_).mark_point(shape=shp, filled=True, opacity=1, size=110, color=col).encode(
            x=alt.X("x:Q", scale=None), y=alt.Y("y:Q", scale=None)))
        if lab:
            yy = ty.get(y, y) if ty else y
            panels.append(text_layer([(lab, xt, yy)], fontSize=22 if ty else 23, fontWeight="bold", align="left"))

chart = alt.layer(*panels).resolve_scale(x="independent", y="independent").properties(
    width=W, height=H, padding=0, autosize=alt.AutoSizeParams(type="none"), background="white"
).configure_view(strokeWidth=0).configure_axis(grid=False)

chart.save("out.html", embed_options={"renderer": "svg", "actions": False})
